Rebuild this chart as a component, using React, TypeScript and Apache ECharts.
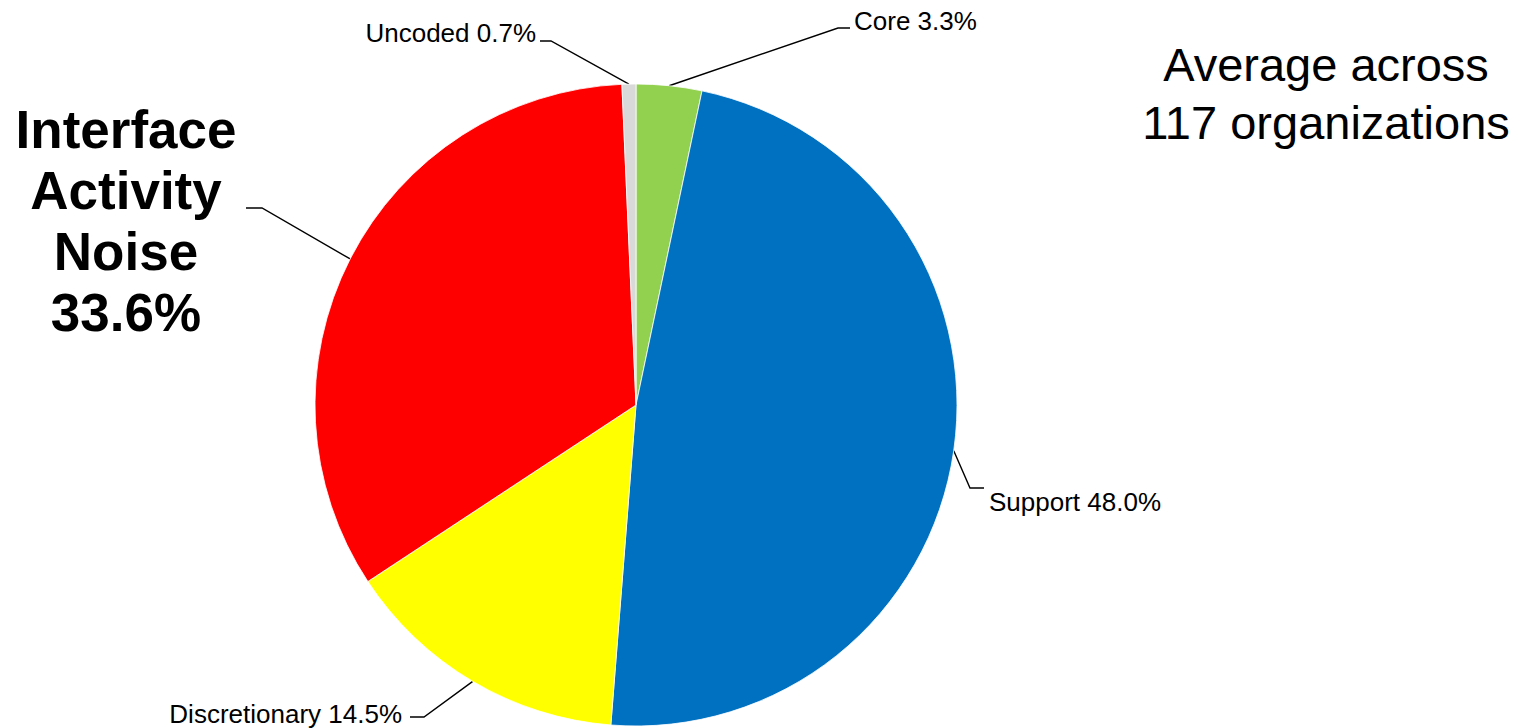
import React, { useEffect, useRef } from 'react';
import * as echarts from 'echarts';

const categories = ['Core', 'Support', 'Discretionary', 'Interface Activity Noise', 'Uncoded'];
const values = [3.3, 48.0, 14.5, 33.6, 0.7];
const colors = ['#92D050', '#0070C0', '#FFFF00', '#FF0000', '#D9D9D9'];
const titleLines = ['Average across', '117 organizations'];

// label placement (annotation layout): label anchor, elbow of leader line, end of horizontal segment
const labelPlacement = [
  { x: 854, y: 21, align: 'left', elbow: [838, 28], end: 850 },
  { x: 989, y: 502, align: 'left', elbow: [970, 488], end: 984 },
  { x: 402, y: 714, align: 'right', elbow: [424, 717], end: 410 },
  { x: 126, y: 221, align: 'center', elbow: [262, 208], end: 246 },
  { x: 536, y: 33, align: 'right', elbow: [551, 41], end: 540 },
];

const CX = 636;
const CY = 405;
const R = 321;

export default function App() {
  const ref = useRef<HTMLDivElement>(null);
  useEffect(() => {
    document.body.style.margin = '0';
    if (!ref.current) return;
    const chart = echarts.init(ref.current, null, { renderer: 'svg' });
    const total = values.reduce((a, b) => a + b, 0);
    const mids: number[][] = [];
    let acc = 0;
    values.forEach((v) => {
      const a = ((acc + v / 2) / total) * Math.PI * 2;
      mids.push([CX + R * Math.sin(a), CY - R * Math.cos(a)]);
      acc += v;
    });
    const smallLabel = {
      fontFamily: "'Liberation Sans', Arial, sans-serif",
      fontSize: 26,
      color: '#000',
    };
    chart.setOption({
      animation: false,
      backgroundColor: '#fff',
      graphic: [
        {
          type: 'text',
          x: 1326,
          y: 93,
          style: {
            text: titleLines.join('\n'),
            fontFamily: "'Liberation Sans', Arial, sans-serif",
            fontSize: 47,
            lineHeight: 58,
            fill: '#000',
            align: 'center',
            verticalAlign: 'middle',
          },
        },
      ],
      series: [
        {
          type: 'pie',
          center: [CX, CY],
          radius: R,
          startAngle: 90,
          clockwise: true,
          avoidLabelOverlap: false,
          itemStyle: { borderColor: '#fff', borderWidth: 0.8 },
          label: {
            show: true,
            position: 'outside',
            ...smallLabel,
            formatter: (p: any) => `${p.name} ${Number(p.value).toFixed(1)}%`,
          },
          labelLine: {
            show: true,
            length: 20,
            length2: 10,
            lineStyle: { color: '#000', width: 1.4 },
          },
          labelLayout: (params: any) => {
            const p = labelPlacement[params.dataIndex];
            const start =
              params.labelLinePoints && params.labelLinePoints[0]
                ? params.labelLinePoints[0]
                : mids[params.dataIndex];
            return {
              x: p.x,
              y: p.y,
              align: p.align,
              verticalAlign: 'middle',
              labelLinePoints: [start, p.elbow, [p.end, p.elbow[1]]],
            };
          },
          data: categories.map((name, i) => {
            const item: any = {
              name,
              value: values[i],
              itemStyle: { color: colors[i] },
            };
            if (name === 'Interface Activity Noise') {
              item.label = {
                formatter: (p: any) => `${p.name.split(' ').join('\n')}\n${Number(p.value).toFixed(1)}%`,
                fontFamily: "'Liberation Sans', Arial, sans-serif",
                fontSize: 53,
                fontWeight: 'bold',
                lineHeight: 61,
                align: 'center',
                color: '#000',
              };
            }
            return item;
          }),
        },
      ],
    });
    return () => chart.dispose();
  }, []);
  return <div ref={ref} style={{ width: 1528, height: 728 }} />;
}
